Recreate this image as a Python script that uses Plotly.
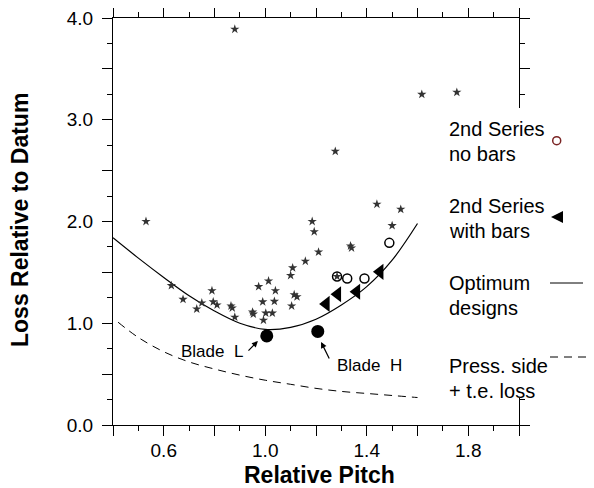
# Loss vs relative pitch with optimum-design curve and pressure-side loss curve
import plotly.graph_objects as go

# data
star_x = [0.53, 0.63, 0.676, 0.73, 0.75, 0.79, 0.795, 0.81, 0.865, 0.87, 0.88, 0.95, 0.953,
          0.974, 0.99, 1.013, 1.002, 1.028, 0.993, 1.04, 1.036, 1.10, 1.108, 1.114, 1.125,
          1.104, 1.158, 1.21, 1.185, 1.193, 1.336, 1.34, 1.283, 1.44, 1.534, 1.50, 0.88,
          1.276, 1.617, 1.755]
star_y = [2.00, 1.37, 1.235, 1.14, 1.20, 1.32, 1.21, 1.18, 1.17, 1.15, 1.06, 1.11, 1.09,
          1.36, 1.21, 1.415, 1.10, 1.10, 1.03, 1.32, 1.215, 1.47, 1.545, 1.28, 1.26,
          1.17, 1.61, 1.70, 2.00, 1.90, 1.76, 1.74, 1.46, 2.17, 2.12, 1.96, 3.89,
          2.69, 3.25, 3.27]

nobar_x = [1.283, 1.323, 1.391, 1.489]
nobar_y = [1.46, 1.44, 1.44, 1.79]

bars_x = [1.24, 1.285, 1.36, 1.452]
bars_y = [1.19, 1.285, 1.31, 1.505]

blade_x = [1.006, 1.207]
blade_y = [0.875, 0.92]

opt_x = [0.40, 0.50, 0.60, 0.70, 0.80, 0.90, 1.00, 1.10, 1.20, 1.30, 1.40, 1.50, 1.60]
opt_y = [1.84, 1.64, 1.45, 1.27, 1.12, 1.00, 0.94, 0.96, 1.04, 1.18, 1.36, 1.62, 1.98]

ps_x = [0.42, 0.50, 0.60, 0.70, 0.80, 0.90, 1.00, 1.10, 1.20, 1.30, 1.40, 1.50, 1.60]
ps_y = [1.01, 0.86, 0.72, 0.62, 0.55, 0.49, 0.44, 0.40, 0.36, 0.33, 0.31, 0.29, 0.27]

x_ticks = [0.4, 0.6, 0.8, 1.0, 1.2, 1.4, 1.6, 1.8, 2.0]
x_labels = ["", "0.6", "", "1.0", "", "1.4", "", "1.8", ""]
y_ticks = [0.0, 0.5, 1.0, 1.5, 2.0, 2.5, 3.0, 3.5, 4.0]
y_labels = ["0.0", "", "1.0", "", "2.0", "", "3.0", "", "4.0"]

FONT = "Liberation Sans, Arial, sans-serif"
OFF = 8  # page body margin
W, H = 586, 480
L, R, T, B = 105, 75, 10, 63


def px(x, y):
    # screen pixel position -> paper coords
    return (x - OFF - L) / (W - L - R), (H - B - (y - OFF)) / (H - T - B)


fig = go.Figure()

fig.add_trace(go.Scatter(x=ps_x, y=ps_y, mode="lines", line_shape="spline",
                         line=dict(color="black", width=1, dash="8px,6px")))
fig.add_trace(go.Scatter(x=opt_x, y=opt_y, mode="lines", line_shape="spline",
                         line=dict(color="black", width=1.2)))
fig.add_trace(go.Scatter(x=star_x, y=star_y, mode="markers",
                         marker=dict(symbol="star", size=7, color="#333")))
fig.add_trace(go.Scatter(x=nobar_x, y=nobar_y, mode="markers",
                         marker=dict(symbol="circle-open", size=9, color="black",
                                     line=dict(width=1.5))))
fig.add_trace(go.Scatter(x=bars_x, y=bars_y, mode="markers",
                         marker=dict(symbol="triangle-left", size=14, color="black")))
fig.add_trace(go.Scatter(x=blade_x, y=blade_y, mode="markers",
                         marker=dict(symbol="circle", size=13, color="black")))

axis_common = dict(showline=True, linecolor="black", linewidth=1, mirror="ticks",
                   ticks="outside", ticklen=10, tickcolor="black", tickwidth=1,
                   showgrid=False, zeroline=False, automargin=False,
                   ticklabeloverflow="allow",
                   tickfont=dict(family=FONT, size=19, color="black"))

fig.update_xaxes(range=[0.4, 2.0], tickvals=x_ticks, ticktext=x_labels,
                 minor=dict(dtick=0.1, ticklen=5, ticks="outside", tickcolor="black"),
                 ticklabelstandoff=-2, **axis_common)
fig.update_yaxes(range=[0, 4], tickvals=y_ticks, ticktext=y_labels,
                 minor=dict(dtick=0.25, ticklen=5, ticks="outside", tickcolor="black"),
                 ticklabelstandoff=5, **axis_common)

# legend box (hides the right frame behind it)
x0, y0 = px(440, 398)
x1, y1 = px(600, 108)
shapes = [dict(type="rect", xref="paper", yref="paper", x0=x0, y0=y0, x1=x1, y1=y1,
               fillcolor="white", line=dict(width=0), layer="above")]

a, b = px(552.7, 144.7)
c, d = px(560.7, 136.7)
shapes.append(dict(type="circle", xref="paper", yref="paper", x0=a, y0=b, x1=c, y1=d,
                   line=dict(color="#7a2424", width=1.5), layer="above"))
t1 = px(551, 217)
t2 = px(563, 211)
t3 = px(563, 223)
shapes.append(dict(type="path", xref="paper", yref="paper",
                   path=f"M {t1[0]},{t1[1]} L {t2[0]},{t2[1]} L {t3[0]},{t3[1]} Z",
                   fillcolor="black", line=dict(width=0), layer="above"))
l1 = px(550, 283)
l2 = px(583, 283)
shapes.append(dict(type="line", xref="paper", yref="paper", x0=l1[0], y0=l1[1],
                   x1=l2[0], y1=l2[1], line=dict(color="black", width=1), layer="above"))
d1 = px(550, 357)
d2 = px(594, 357)
shapes.append(dict(type="line", xref="paper", yref="paper", x0=d1[0], y0=d1[1],
                   x1=d2[0], y1=d2[1], line=dict(color="black", width=1, dash="8px,6px"),
                   layer="above"))

annotations = []
legend_rows = [("2nd Series", 129), ("no bars", 154), ("2nd Series", 206), ("with bars", 231),
               ("Optimum", 283), ("designs", 308), ("Press. side", 366), ("+ t.e. loss", 391)]
for txt, yy in legend_rows:
    ax_, ay_ = px(447, yy)
    annotations.append(dict(text=txt, xref="paper", yref="paper", x=ax_, y=ay_,
                            xanchor="left", yanchor="middle", showarrow=False,
                            font=dict(family=FONT, size=20, color="black")))

# axis titles
tx, ty = px(319, 475)
annotations.append(dict(text="<b>Relative Pitch</b>", xref="paper", yref="paper", x=tx, y=ty,
                        xanchor="center", yanchor="middle", showarrow=False,
                        font=dict(family=FONT, size=23, color="black")))
tx, ty = px(20, 220)
annotations.append(dict(text="<b>Loss Relative to Datum</b>", xref="paper", yref="paper",
                        x=tx, y=ty, textangle=-90, xanchor="center", yanchor="middle",
                        showarrow=False, font=dict(family=FONT, size=23, color="black")))

# blade labels and arrows
annotations.append(dict(text="Blade\u00a0\u00a0L", x=0.79, y=0.725, showarrow=False,
                        font=dict(family=FONT, size=17, color="black")))
annotations.append(dict(text="Blade\u00a0\u00a0H", x=1.409, y=0.58, showarrow=False,
                        font=dict(family=FONT, size=17, color="black")))
annotations.append(dict(text="", x=0.971, y=0.825, ax=0.928, ay=0.717, axref="x", ayref="y",
                        showarrow=True, arrowhead=2, arrowsize=1, arrowwidth=1.2,
                        arrowcolor="black"))
annotations.append(dict(text="", x=1.220, y=0.816, ax=1.255, ay=0.639, axref="x", ayref="y",
                        showarrow=True, arrowhead=2, arrowsize=1, arrowwidth=1.2,
                        arrowcolor="black"))

fig.update_layout(width=W, height=H, margin=dict(l=L, r=R, t=T, b=B),
                  plot_bgcolor="white", paper_bgcolor="white", showlegend=False,
                  shapes=shapes, annotations=annotations)

fig.write_html("out.html")
